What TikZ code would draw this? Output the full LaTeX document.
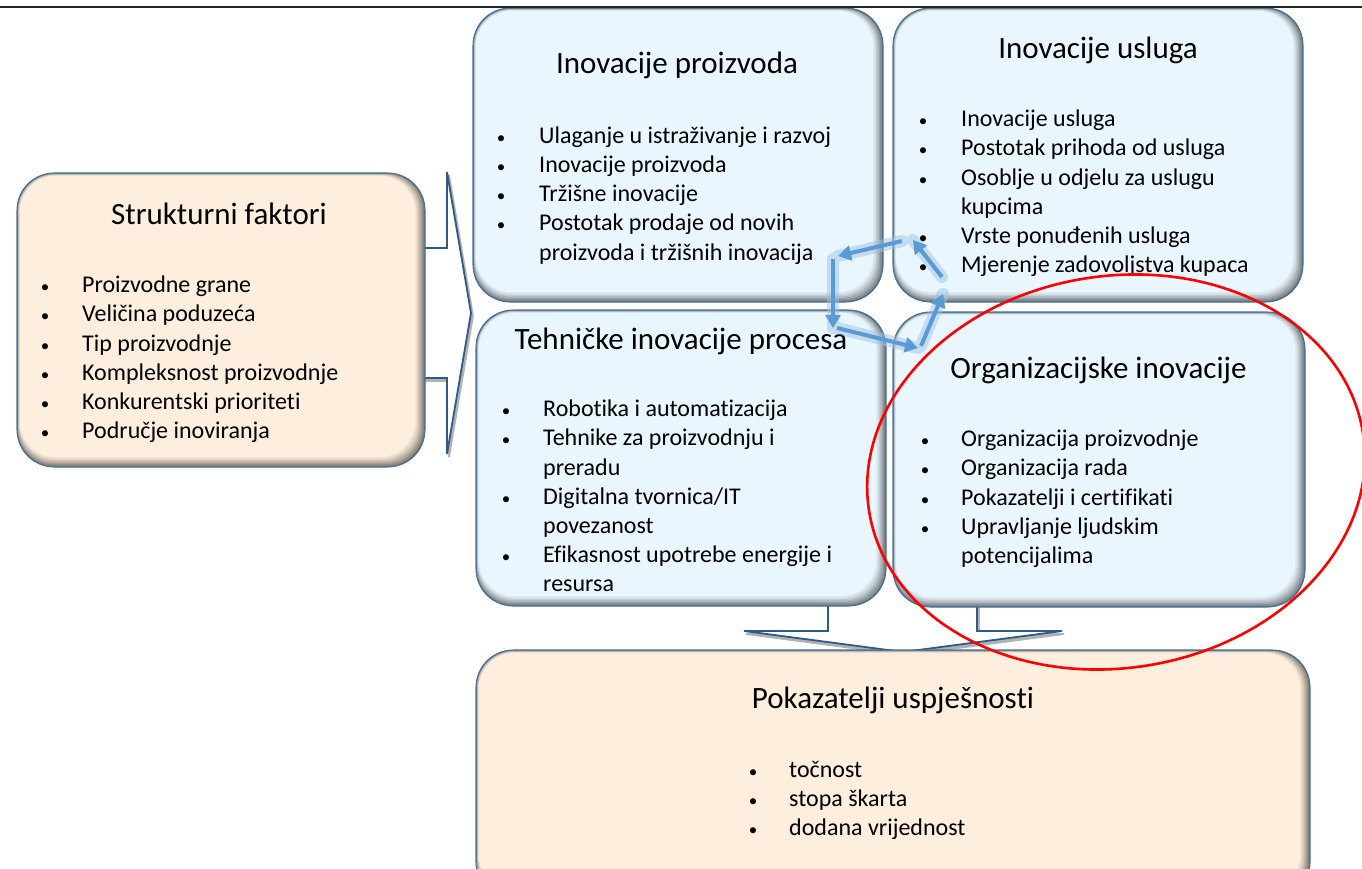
\documentclass[tikz,border=0pt]{standalone}
\usepackage{fontspec}
\setmainfont{Carlito}[Ligatures={NoCommon}]
\usetikzlibrary{arrows.meta}
\definecolor{bluef}{HTML}{EAF6FE}
\definecolor{peachf}{HTML}{FDEEDD}
\definecolor{edgec}{HTML}{41719C}
\definecolor{arrowc}{HTML}{5B9BD5}
\definecolor{glowc}{HTML}{9DC3E6}
\definecolor{arrowedge}{HTML}{2E5A88}
\newcommand{\bevbox}[6]{%
  \foreach \k/\c in {0/50,1/58,2/66,3/74,4/82,5/89,6/95,7/100}{
    \fill[#6!\c!black, rounded corners=36pt] ({#2+\k*0.4},{#3+\k*0.4}) rectangle ({#4-\k*1.4},{#5-\k*1.4});
  }
  \node[draw=edgec, line width=1.1pt, rounded corners=38pt, inner sep=0pt,
        minimum width={(#4-#2)*1pt}, minimum height={(#5-#3)*1pt}] (#1) at ({(#2+#4)/2},{(#3+#5)/2}) {};
}
\newcommand{\bl}{\makebox[0pt]{\fontsize{17}{17}\selectfont•}}
\begin{document}
\begin{tikzpicture}[x=1pt,y=-1pt,
  title/.style={anchor=base, inner sep=0pt, font=\fontsize{31}{36}\selectfont},
  list/.style={anchor=base west, inner sep=0pt, font=\fontsize{24}{29.2}\selectfont},
  blockarrow/.style={fill=white, draw=arrowedge, line width=1.8pt, line join=miter},
  arrowshadow/.style={fill=black!30, draw=black!30, line width=1.8pt},
  glow/.style={glowc, line width=12pt, opacity=0.5, line cap=round},
  cyc/.style={arrowc, line width=4pt, -{Triangle[length=13pt,width=15pt]}}]
\useasboundingbox (0,0) rectangle (1362,869);
\clip (0,0) rectangle (1362,869);
\fill[white] (0,0) rectangle (1362,869);

% block arrows (behind boxes)
\begin{scope}[shift={(2,3)}]
\path[arrowshadow] (400,248) -- (447,248) -- (447,172) -- (471,313) -- (447,454) -- (447,378) -- (400,378) -- cycle;
\path[arrowshadow] (828,590) -- (828,631) -- (744,631) -- (903,652) -- (1062,631) -- (977,631) -- (977,590) -- cycle;
\end{scope}
\draw[blockarrow] (400,248) -- (447,248) -- (447,172) -- (471,313) -- (447,454) -- (447,378) -- (400,378);
\draw[blockarrow] (828,590) -- (828,631) -- (744,631) -- (903,652) -- (1062,631) -- (977,631) -- (977,590);

% boxes
\bevbox{sf}{17}{173}{425}{467}{peachf}
\bevbox{ip}{473}{8}{883}{302}{bluef}
\bevbox{iu}{893}{8}{1303}{302}{bluef}
\bevbox{tip}{476}{310}{886}{606}{bluef}
\bevbox{oi}{893}{312}{1305}{607}{bluef}
\bevbox{pu}{476}{650}{1310}{900}{peachf}

\draw[line width=1.2pt, black!85] (0,7) -- (1362,7);

% titles
\node[title] (sft) at (219,225) {Strukturni faktori};
\node[title] (ipt) at (677,73.3) {Inovacije proizvoda};
\node[title] (iut) at (1098,59) {Inovacije usluga};
\node[title] (tipt) at (681,349) {Tehničke inovacije procesa};
\node[title] (oit) at (1098.5,378.3) {Organizacijske inovacije};
\node[title] (put) at (893,708) {Pokazatelji uspješnosti};

% lists
\node[list] (sfl) at (45,292.7) {\begin{tabular}[t]{@{}p{37pt}@{}l@{}}
\bl & Proizvodne grane\\ \bl & Veličina poduzeća\\ \bl & Tip proizvodnje\\
\bl & Kompleksnost proizvodnje\\ \bl & Konkurentski prioriteti\\ \bl & Područje inoviranja
\end{tabular}};
\node[list] (ipl) at (501,143.3) {\begin{tabular}[t]{@{}p{38pt}@{}l@{}}
\bl & Ulaganje u istraživanje i razvoj\\ \bl & Inovacije proizvoda\\ \bl & Tržišne inovacije\\
\bl & Postotak prodaje od novih\\ & proizvoda i tržišnih inovacija
\end{tabular}};
\node[list] (iul) at (923,126.7) {\begin{tabular}[t]{@{}p{38pt}@{}l@{}}
\bl & Inovacije usluga\\ \bl & Postotak prihoda od usluga\\ \bl & Osoblje u odjelu za uslugu\\
& kupcima\\ \bl & Vrste ponuđenih usluga\\ \bl & Mjerenje zadovoljstva kupaca
\end{tabular}};
\node[list] (tipl) at (506,416.7) {\begin{tabular}[t]{@{}p{37pt}@{}l@{}}
\bl & Robotika i automatizacija\\ \bl & Tehnike za proizvodnju i\\ & preradu\\
\bl & Digitalna tvornica/IT\\ & povezanost\\ \bl & Efikasnost upotrebe energije i\\ & resursa
\end{tabular}};
\node[list] (oil) at (925,446.7) {\begin{tabular}[t]{@{}p{36pt}@{}l@{}}
\bl & Organizacija proizvodnje\\ \bl & Organizacija rada\\ \bl & Pokazatelji i certifikati\\
\bl & Upravljanje ljudskim\\ & potencijalima
\end{tabular}};
\node[list] (pul) at (753,777.3) {\begin{tabular}[t]{@{}p{36pt}@{}l@{}}
\bl & točnost\\ \bl & stopa škarta\\ \bl & dodana vrijednost
\end{tabular}};

% cycle arrows
\coordinate (a1) at (902,241);
\coordinate (a2) at (838,256);
\coordinate (a3) at (833,259);
\coordinate (a4) at (833,328);
\coordinate (a5) at (837,328);
\coordinate (a6) at (918,348);
\coordinate (a7) at (921,346);
\coordinate (a8) at (943,294);
\coordinate (a9) at (942,277);
\coordinate (a10) at (913,240);
\draw[glow] (a1) -- (a2) (a3) -- (a4) (a5) -- (a6) (a7) -- (a8) (a9) -- (a10);
\draw[cyc] (a1) -- (a2);
\draw[cyc] (a3) -- (a4);
\draw[cyc] (a5) -- (a6);
\draw[cyc] (a7) -- (a8);
\draw[cyc] (a9) -- (a10);

% red ellipse
\draw[red, line width=2.6pt, rotate around={9:(1116,472)}] (1116,472) ellipse [x radius=250, y radius=196];
\end{tikzpicture}
\end{document}
